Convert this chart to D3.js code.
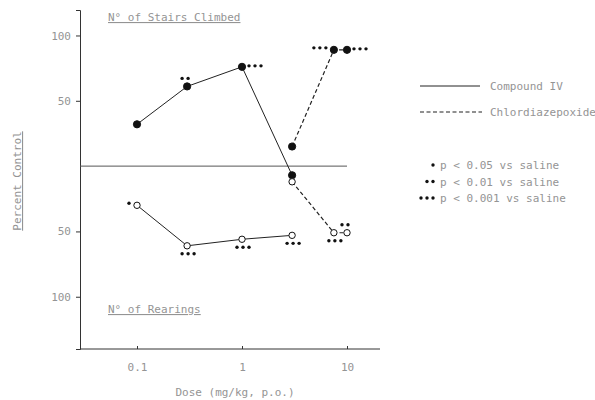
<!DOCTYPE html>
<meta charset="utf-8">
<style>
    body { margin: 0; background: #fff; }
    text { font-family: "DejaVu Sans Mono", monospace; font-size: 11px; fill: #949494; }
    .axis path, .axis line { stroke: #333; }
    .axis text { fill: #949494; font-size: 11px; }
    .civ { fill: none; stroke: #222; stroke-width: 1; }
    .cdp { fill: none; stroke: #222; stroke-width: 1.2; stroke-dasharray: 4,2.5; }
</style>
<svg width="595" height="400"></svg>
<script src="https://cdn.jsdelivr.net/npm/d3@7"></script>
<script>
    // doses (mg/kg, p.o.)
    var dosesCIV = [0.1, 0.3, 1, 3];
    var dosesCDP = [3, 7.5, 10];
    // percent change vs control: stairs above the line, rearings below
    var stairsCIV = [32, 61, 76, -7];
    var stairsCDP = [15, 89, 89];
    var rearingsCIV = [-30, -61, -56, -53];
    var rearingsCDP = [-12, -51, -51];
    // number of significance dots per point and where they sit
    var starsStairsCIV = [0, 2, 3, 0];
    var starsStairsCDP = [0, 3, 3];
    var starsRearCIV = [1, 3, 3, 3];
    var starsRearCDP = [0, 3, 2];
    var sideStairsCIV = ['', 'above', 'right', ''];
    var sideStairsCDP = ['', 'left', 'right'];
    var sideRearCIV = ['left', 'below', 'below', 'below'];
    var sideRearCDP = ['', 'below', 'above'];

    var xTicks = [0.1, 1, 10];
    var yTicks = [100, 50, -50, -100];

    var svg = d3.select('svg');
    var x = d3.scaleLog().domain([0.1, 10]).range([137, 347]);
    var y = d3.scaleLinear().domain([-140, 119.5]).range([349, 10]);

    // axes
    svg.append('g')
        .attr('class', 'axis')
        .attr('transform', 'translate(80,0)')
        .call(d3.axisLeft(y).tickValues(yTicks).tickSize(4)
            .tickFormat(function (d) { return Math.abs(d); }))
        .call(function (g) { g.selectAll('text').attr('x', -9); });

    var xAxis = svg.append('g')
        .attr('class', 'axis')
        .attr('transform', 'translate(0,349)')
        .call(d3.axisBottom(x).tickValues(xTicks).tickSizeInner(-3).tickSizeOuter(0)
            .tickFormat(function (d) { return d; }));
    xAxis.select('.domain').remove();
    xAxis.selectAll('text').attr('y', 14);
    svg.append('line')
        .attr('x1', 80).attr('x2', 380).attr('y1', 349).attr('y2', 349)
        .attr('stroke', '#333');

    // control line
    svg.append('line')
        .attr('x1', 80).attr('x2', x(10)).attr('y1', y(0)).attr('y2', y(0))
        .attr('stroke', '#555');

    function series(doses, vals) {
        return doses.map(function (d, i) { return {dose: d, v: vals[i]}; });
    }
    var line = d3.line()
        .x(function (d) { return x(d.dose); })
        .y(function (d) { return y(d.v); });

    var sets = [
        {pts: series(dosesCIV, stairsCIV), cls: 'civ', open: false, stars: starsStairsCIV, side: sideStairsCIV},
        {pts: series(dosesCIV, rearingsCIV), cls: 'civ', open: true, stars: starsRearCIV, side: sideRearCIV},
        {pts: series(dosesCDP, stairsCDP), cls: 'cdp', open: false, stars: starsStairsCDP, side: sideStairsCDP},
        {pts: series(dosesCDP, rearingsCDP), cls: 'cdp', open: true, stars: starsRearCDP, side: sideRearCDP}
    ];

    sets.forEach(function (s) {
        svg.append('path').attr('class', s.cls).attr('d', line(s.pts));
    });
    sets.forEach(function (s) {
        svg.selectAll(null)
            .data(s.pts)
            .enter()
            .append('circle')
            .attr('cx', function (d) { return x(d.dose); })
            .attr('cy', function (d) { return y(d.v); })
            .attr('r', s.open ? 3.2 : 3.6)
            .attr('fill', s.open ? '#fff' : '#111')
            .attr('stroke', '#111')
            .attr('stroke-width', 1);
        // significance dots
        s.pts.forEach(function (d, i) {
            var n = s.stars[i];
            if (!n) return;
            var cx = x(d.dose), cy = y(d.v), sx, sy;
            var w = (n - 1) * 6;
            if (s.side[i] === 'above') { sx = cx - w / 2 - 2; sy = cy - 8; }
            else if (s.side[i] === 'below') { sx = cx - w / 2 + 1; sy = cy + 8; }
            else if (s.side[i] === 'right') { sx = cx + 7; sy = cy - 1; }
            else { sx = cx - 8 - w; sy = cy - 2; }
            for (var k = 0; k < n; k++) {
                svg.append('circle').attr('cx', sx + k * 6).attr('cy', sy)
                    .attr('r', 1.7).attr('fill', '#111');
            }
        });
    });

    // titles
    svg.append('text').attr('x', 108).attr('y', 21)
        .style('text-decoration', 'underline').text('N° of Stairs Climbed');
    svg.append('text').attr('x', 108).attr('y', 313)
        .style('text-decoration', 'underline').text('N° of Rearings');
    svg.append('text').attr('x', 235).attr('y', 396)
        .attr('text-anchor', 'middle').text('Dose (mg/kg, p.o.)');
    svg.append('text')
        .attr('transform', 'translate(21,181) rotate(-90)')
        .attr('text-anchor', 'middle')
        .style('text-decoration', 'underline')
        .text('Percent Control');

    // legend
    var lg = svg.append('g');
    lg.append('line').attr('class', 'civ').attr('x1', 420).attr('x2', 480).attr('y1', 86).attr('y2', 86);
    lg.append('text').attr('x', 490).attr('y', 90).text('Compound IV');
    lg.append('line').attr('class', 'cdp').attr('x1', 420).attr('x2', 482).attr('y1', 112).attr('y2', 112);
    lg.append('text').attr('x', 490).attr('y', 116).text('Chlordiazepoxide');

    var sigLabels = ['p < 0.05  vs saline', 'p < 0.01  vs saline', 'p < 0.001 vs saline'];
    sigLabels.forEach(function (t, i) {
        var yy = 165 + i * 16.5;
        for (var k = 0; k <= i; k++) {
            lg.append('circle').attr('cx', 433 - k * 6).attr('cy', yy)
                .attr('r', 1.7).attr('fill', '#111');
        }
        lg.append('text').attr('x', 440).attr('y', yy + 4).text(t);
    });
</script>
